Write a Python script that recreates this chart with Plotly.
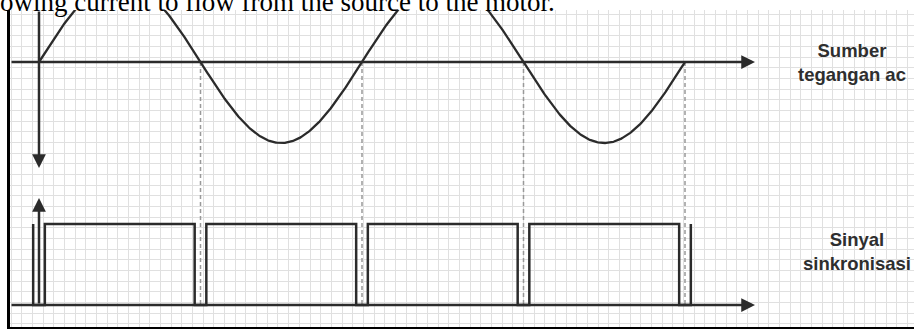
import numpy as np
import plotly.graph_objects as go

# Phase (degrees) at which the mains voltage crosses zero
zero_crossings = [0, 180, 360, 540, 720]
ac_amplitude = 1.0
# Half-width (degrees) of the low window of the sync signal around each crossing
sync_guard = 6.5
sync_low = -3.0
sync_high = -2.0

title_text = "owing current to flow from the source to the motor."
label_ac = "Sumber<br>tegangan ac"
label_sync = "Sinyal<br>sinkronisasi"

# ---- canvas geometry (pixels) ----
W, H = 914, 329
PL, PT, PB = 10, 10, 2           # plot area: x 10..914, y 10..327
X0_PX, DEG_PX = 39, (685 - 39) / 720.0
Y0_PX, UNIT_PX = 62, 81.0

def px_to_x(px):
    return (px - X0_PX) / DEG_PX

def px_to_y(py):
    return (Y0_PX - py) / UNIT_PX

x_range = [px_to_x(PL), px_to_x(W)]
y_range = [px_to_y(H - PB), px_to_y(PT)]

ink = "#2b2b2b"

fig = go.Figure()

# dashed guides at each zero crossing, from the AC axis down to the sync axis
gx, gy = [], []
for c in zero_crossings[1:]:
    gx += [c, c, None]
    gy += [0, sync_low, None]
fig.add_trace(go.Scatter(x=gx, y=gy, mode="lines",
                         line=dict(color="#999999", width=1.5, dash="4px,3px"),
                         hoverinfo="skip"))

# AC source voltage
phase = np.linspace(zero_crossings[0], zero_crossings[-1], 721)
volt = ac_amplitude * np.sin(np.radians(phase))
fig.add_trace(go.Scatter(x=phase, y=volt, mode="lines",
                         line=dict(color=ink, width=2.3), hoverinfo="skip"))

# synchronisation pulse train
g = sync_guard
px_, py_ = [zero_crossings[0] - g, zero_crossings[0] - g], [sync_high, sync_low]
for a, b in zip(zero_crossings[:-1], zero_crossings[1:]):
    px_ += [a + g, a + g, b - g, b - g]
    py_ += [sync_low, sync_high, sync_high, sync_low]
px_ += [zero_crossings[-1] + g, zero_crossings[-1] + g]
py_ += [sync_low, sync_high]
fig.add_trace(go.Scatter(x=px_, y=py_, mode="lines",
                         line=dict(color=ink, width=2.5), hoverinfo="skip"))

# axes with arrowheads
axis_end = px_to_x(755)
arrows = [
    dict(x=axis_end, y=0, ax=x_range[0], ay=0),                          # AC time axis
    dict(x=axis_end, y=sync_low, ax=x_range[0], ay=sync_low),            # sync time axis
    dict(x=zero_crossings[0], y=px_to_y(168), ax=zero_crossings[0], ay=y_range[1]),  # voltage axis
    dict(x=zero_crossings[0], y=px_to_y(198), ax=zero_crossings[0], ay=sync_low),    # sync axis
]
annotations = []
for a in arrows:
    annotations.append(dict(xref="x", yref="y", axref="x", ayref="y", text="",
                            showarrow=True, arrowhead=2, arrowsize=1.1,
                            arrowwidth=2.5, arrowcolor=ink, standoff=0, **a))

lab_font = dict(family="Liberation Sans, Arial, sans-serif", size=18.5, color="#2e2e2e")
annotations.append(dict(xref="x", yref="y", x=px_to_x(852), y=px_to_y(62.5),
                        text="<b>" + label_ac.replace("<br>", "</b><br><b>") + "</b>",
                        showarrow=False, font=lab_font, xanchor="center", yanchor="middle"))
annotations.append(dict(xref="x", yref="y", x=px_to_x(857), y=px_to_y(251.5),
                        text="<b>" + label_sync.replace("<br>", "</b><br><b>") + "</b>",
                        showarrow=False, font=lab_font, xanchor="center", yanchor="middle"))

# running text above the diagram
pw, ph = W - PL, H - PT - PB
annotations.append(dict(xref="paper", yref="paper",
                        x=(-2 - PL) / pw, y=(H - PB - 19) / ph,
                        text=title_text, showarrow=False, xanchor="left", yanchor="bottom",
                        font=dict(family="Liberation Serif, Times New Roman, serif",
                                  size=27, color="black")))

grid_step = 10.67
fig.update_layout(
    width=W, height=H,
    margin=dict(l=PL, r=0, t=PT, b=PB, pad=0),
    paper_bgcolor="white", plot_bgcolor="white",
    showlegend=False,
    annotations=annotations,
    xaxis=dict(range=x_range, showticklabels=False, ticks="", zeroline=False,
               showgrid=True, gridcolor="#e0e0e0", gridwidth=1,
               tick0=px_to_x(416.7), dtick=grid_step / DEG_PX,
               showline=True, linecolor="black", linewidth=2.5, fixedrange=True),
    yaxis=dict(range=y_range, showticklabels=False, ticks="", zeroline=False,
               showgrid=True, gridcolor="#e0e0e0", gridwidth=1,
               tick0=px_to_y(78.4), dtick=grid_step / UNIT_PX,
               showline=True, linecolor="black", linewidth=2.5, fixedrange=True),
)

fig.write_html("out.html", config={"displayModeBar": False})
